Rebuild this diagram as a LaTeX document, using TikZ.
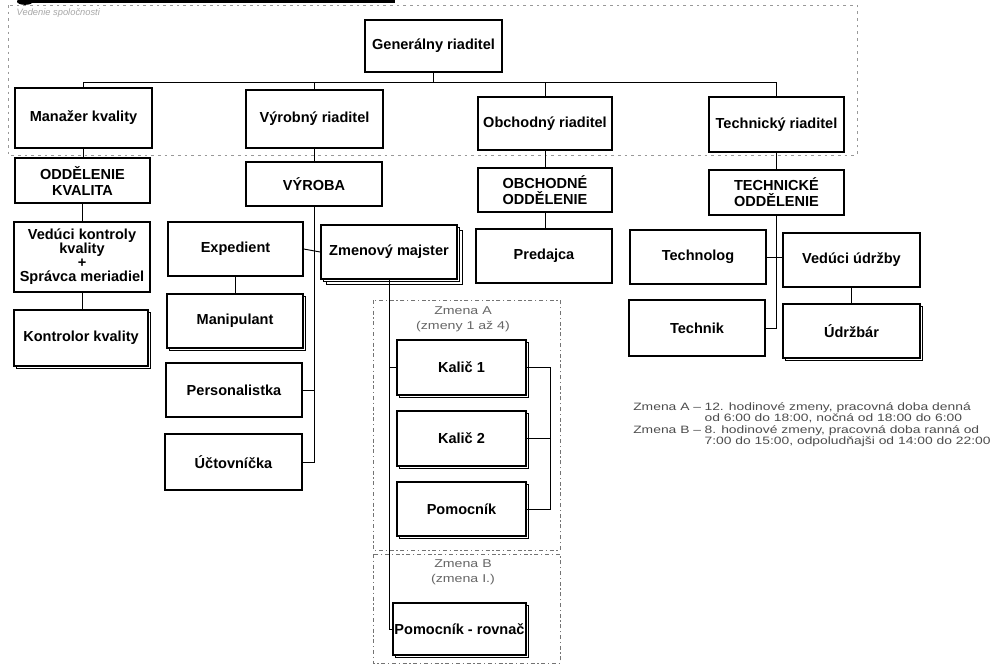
\documentclass[tikz,border=0pt]{standalone}
\usepackage{fontspec}
\setmainfont{Liberation Sans}
\usepackage{graphicx}
\usetikzlibrary{shadows}
\tikzset{
  box/.style={draw, line width=1.1pt, fill=white, align=center, inner sep=1pt,
    font=\fontsize{10.9}{12}\selectfont\bfseries},
  sh/.style={copy shadow={shadow xshift=2pt, shadow yshift=-2pt, fill=white, draw=black, line width=0.5pt}},
  dsh/.style={copy shadow={shadow xshift=3.8pt, shadow yshift=-3.8pt, fill=white, draw=black, line width=0.5pt},
              copy shadow={shadow xshift=1.9pt, shadow yshift=-1.9pt, fill=white, draw=black, line width=0.5pt}},
  conn/.style={line width=0.7pt},
  mframe/.style={draw=black!40, line width=0.6pt, dash pattern=on 2pt off 3pt},
  sframe/.style={draw=black!55, line width=0.7pt, dash pattern=on 3pt off 2pt on 1pt off 2pt},
  shlbl/.style={text=black!60, inner sep=0pt},
}
\begin{document}
\begin{tikzpicture}[x=0.75pt, y=-0.75pt]
\useasboundingbox (0,0) rectangle (1003,665);
% scan bar and faint heading
\fill (18,0) rectangle (395,2.5);
\fill (25,1.5) ellipse (6pt and 2.5pt);
\node[anchor=west, text=black!35, font=\fontsize{7}{8}\selectfont\itshape] (ttl) at (12,13) {Vedenie spoločnosti};
% frames
\draw[mframe] (8,5) rectangle (857,155);
\draw[sframe] (373,300) rectangle (560,550);
\draw[sframe] (373,554) rectangle (560,663);

% top
\node[box, minimum width=102.75pt, minimum height=39pt] (gen) at (433.5,46) {Generálny riaditel};
\node[box, minimum width=102.75pt, minimum height=45pt] (man) at (83.5,118) {Manažer kvality};
\node[box, minimum width=102.75pt, minimum height=43.5pt] (vyr) at (314.5,119) {Výrobný riaditel};
\node[box, minimum width=100.5pt, minimum height=39.75pt] (obch) at (545,123.5) {Obchodný riaditel};
\node[box, minimum width=101.25pt, minimum height=41.25pt] (tech) at (776.5,124.5) {Technický riaditel};
% departments
\node[box, minimum width=101.25pt, minimum height=33.75pt] (odk) at (82.5,180.5) {ODDĚLENIE\\KVALITA};
\node[box, minimum width=102pt, minimum height=33pt] (vyroba) at (314,184) {VÝROBA};
\node[box, minimum width=100.5pt, minimum height=33pt] (oboddel) at (545,190) {OBCHODNÉ\\ODDĚLENIE};
\node[box, minimum width=101.25pt, minimum height=33.75pt] (techodd) at (776.5,192.5) {TECHNICKÉ\\ODDĚLENIE};
% quality
\node[box, minimum width=102pt, minimum height=52.5pt, font=\fontsize{10.9}{10.5}\selectfont\bfseries] (vkk) at (82,257) {Vedúci kontroly\\kvality\\+\\Správca meriadiel};
\node[box, sh, minimum width=100.5pt, minimum height=42pt] (kk) at (81,338) {Kontrolor kvality};
% production
\node[box, minimum width=101.25pt, minimum height=40.5pt] (exp) at (235.5,249) {Expedient};
\node[box, dsh, minimum width=102pt, minimum height=40.5pt] (zm) at (389,252) {Zmenový majster};
\node[box, sh, minimum width=102pt, minimum height=40.5pt] (manip) at (235,321) {Manipulant};
\node[box, minimum width=102pt, minimum height=40.5pt] (pers) at (234,390) {Personalistka};
\node[box, minimum width=102.75pt, minimum height=42pt] (uct) at (233.5,462) {Účtovníčka};
% shifts
\node[box, sh, minimum width=96.75pt, minimum height=41.25pt] (k1) at (461.5,367.5) {Kalič 1};
\node[box, sh, minimum width=96.75pt, minimum height=41.25pt] (k2) at (461.5,438.5) {Kalič 2};
\node[box, sh, minimum width=96.75pt, minimum height=40.5pt] (pom) at (461.5,509) {Pomocník};
\node[box, sh, minimum width=99.75pt, minimum height=39pt] (pr) at (459.5,629) {Pomocník - rovnač};
% sales
\node[box, minimum width=102pt, minimum height=40.5pt] (pred) at (544,256) {Predajca};
% technical
\node[box, minimum width=102pt, minimum height=40.5pt] (tgl) at (698,257) {Technolog};
\node[box, minimum width=102.75pt, minimum height=40.5pt] (vu) at (851.5,260) {Vedúci údržby};
\node[box, minimum width=102pt, minimum height=42pt] (tnk) at (697,328) {Technik};
\node[box, sh, minimum width=102.75pt, minimum height=40.5pt] (udr) at (851.5,331) {Údržbár};

% shift labels
\node[shlbl] (zal) at (463,319) {\scalebox{1.25}[1]{\fontsize{8.5}{11.5}\selectfont\begin{tabular}{@{}c@{}}Zmena A\\(zmeny 1 až 4)\end{tabular}}};
\node[shlbl] (zbl) at (463,572) {\scalebox{1.25}[1]{\fontsize{8.5}{11.5}\selectfont\begin{tabular}{@{}c@{}}Zmena B\\(zmena I.)\end{tabular}}};
% legend
\node[anchor=north west, text=black!70, inner sep=0pt] (leg) at (633,402) {\scalebox{1.3}[1]{\fontsize{8}{8.6}\selectfont\begin{tabular}{@{}l@{\hspace{2pt}}l@{}}Zmena A –&12. hodinové zmeny, pracovná doba denná\\&od 6:00 do 18:00, nočná od 18:00 do 6:00\\Zmena B –&8. hodinové zmeny, pracovná doba ranná od\\&7:00 do 15:00, odpoludňajši od 14:00 do 22:00\end{tabular}}};

% connectors
\coordinate (bus) at (433.5,82);
\coordinate (rk) at (550,368);
\draw[conn] (gen.south) -- (gen.south |- bus);
\draw[conn] (man.north) -- (man.north |- bus) -- (tech.north |- bus) -- (tech.north);
\draw[conn] (vyr.north) -- (vyr.north |- bus);
\draw[conn] (obch.north) -- (obch.north |- bus);
\draw[conn] (man.south) -- (man.south |- odk.north);
\draw[conn] (odk.south) -- (odk.south |- vkk.north);
\draw[conn] (vkk.south) -- (vkk.south |- kk.north);
\draw[conn] (vyr.south) -- (vyr.south |- vyroba.north);
\draw[conn] (vyroba.south) -- (vyroba.south |- uct.east) -- (uct.east);
\draw[conn] (exp.east) -- (zm.west);
\draw[conn] (pers.east) -- (pers.east -| vyroba.south);
\draw[conn] (exp.south) -- (exp.south |- manip.north);
\draw[conn] (zm.south) -- (zm.south |- pr.west) -- (pr.west);
\draw[conn] (k1.west -| zm.south) -- (k1.west);
\draw[conn] (k1.east) -- (k1.east -| rk) -- (pom.east -| rk) -- (pom.east);
\draw[conn] (k2.east) -- (k2.east -| rk);
\draw[conn] (obch.south) -- (obch.south |- oboddel.north);
\draw[conn] (oboddel.south) -- (oboddel.south |- pred.north);
\draw[conn] (tech.south) -- (tech.south |- techodd.north);
\draw[conn] (techodd.south) -- (techodd.south |- tnk.east) -- (tnk.east);
\draw[conn] (tgl.east) -- (tgl.east -| vu.west);
\draw[conn] (vu.south) -- (vu.south |- udr.north);
\end{tikzpicture}
\end{document}
